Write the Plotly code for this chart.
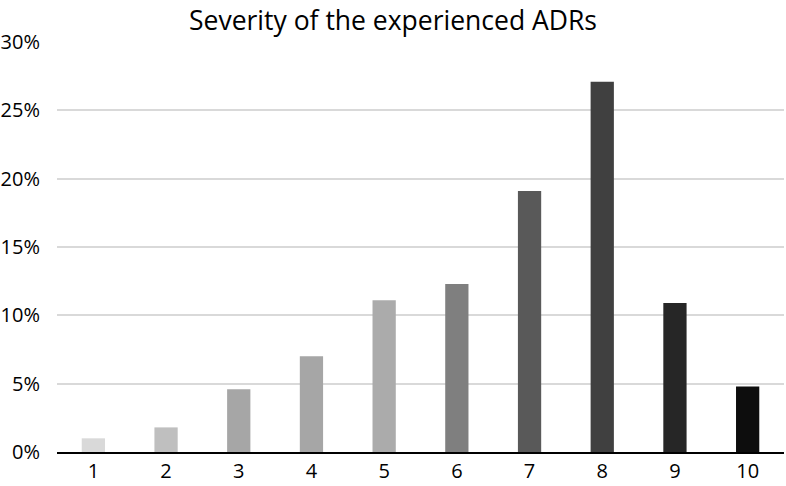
import plotly.graph_objects as go

severity = ["1", "2", "3", "4", "5", "6", "7", "8", "9", "10"]
share = [0.010, 0.018, 0.046, 0.070, 0.111, 0.123, 0.191, 0.271, 0.109, 0.048]
bar_colors = ["#d9d9d9", "#bfbfbf", "#a6a6a6", "#a6a6a6", "#ababab",
              "#7f7f7f", "#595959", "#404040", "#262626", "#0d0d0d"]

fig = go.Figure(
    go.Bar(x=severity, y=share, marker_color=bar_colors, marker_line_width=0)
)

fig.update_layout(
    width=786,
    height=486,
    margin=dict(l=57, r=2, t=42, b=34),
    plot_bgcolor="white",
    paper_bgcolor="white",
    bargap=0.68,
    showlegend=False,
    font=dict(family="Open Sans, sans-serif", color="#000000", size=20),
    title=dict(
        text="Severity of the experienced ADRs",
        x=0.5,
        xanchor="center",
        y=0.958,
        yanchor="middle",
        font=dict(size=26.5, color="#000000"),
    ),
)
fig.update_xaxes(
    showline=True,
    linecolor="#000000",
    linewidth=1.5,
    ticks="",
    showgrid=False,
    tickfont=dict(size=20),
)
fig.update_yaxes(
    range=[0, 0.30],
    dtick=0.05,
    tickformat=".0%",
    showgrid=True,
    gridcolor="#d9d9d9",
    gridwidth=1.5,
    zeroline=False,
    showline=False,
    ticks="",
    ticklabelstandoff=16,
    tickfont=dict(size=20),
)

# drop the default 8px page margin so the figure sits at the window origin
fig.write_html(
    "out.html",
    config={"displayModeBar": False},
    post_script="document.body.style.margin='0';",
)
